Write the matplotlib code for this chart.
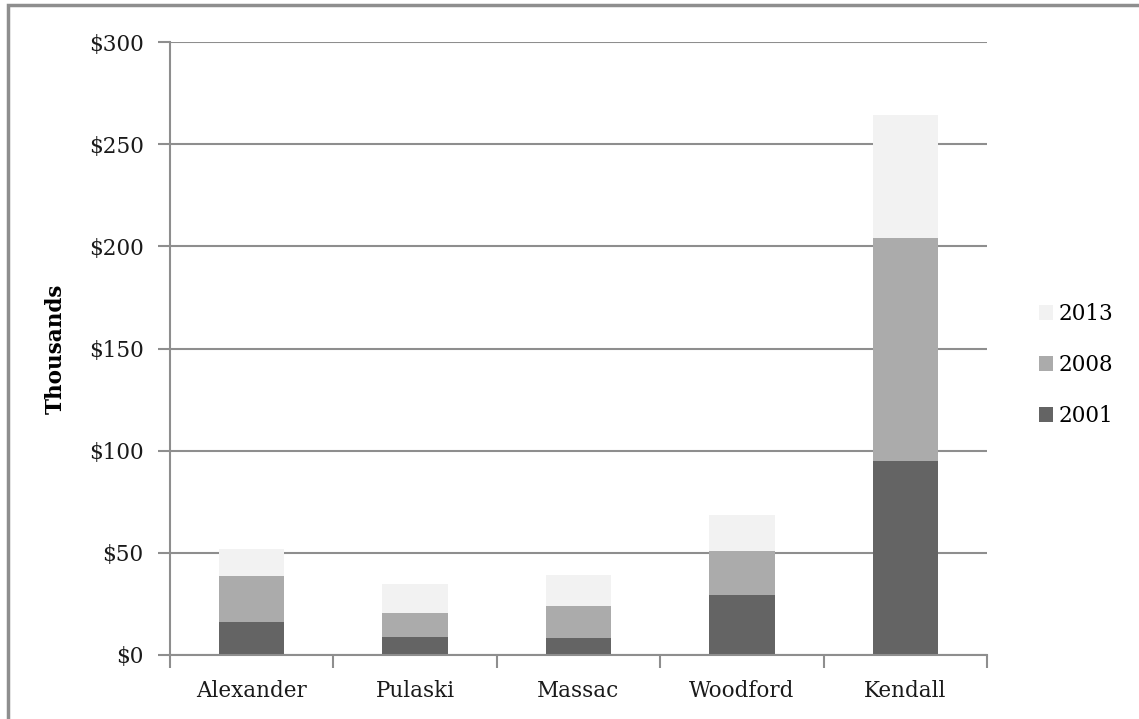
import matplotlib.pyplot as plt
import numpy as np
from matplotlib.patches import Rectangle

counties = ["Alexander", "Pulaski", "Massac", "Woodford", "Kendall"]
years = ["2001", "2008", "2013"]
# values in thousands of dollars, stacked segments
v2001 = [16.2, 8.9, 8.1, 29.6, 94.9]
v2008 = [22.4, 11.7, 15.8, 21.5, 109.2]
v2013 = [13.3, 14.3, 15.1, 17.4, 60.3]
yticks = [0, 50, 100, 150, 200, 250, 300]

colors = {"2001": "#646464", "2008": "#ababab", "2013": "#f2f2f2"}
GRAY = "#8e8e8e"
FS = 15.5

plt.rcParams['font.family'] = ['DejaVu Serif']

fig = plt.figure(figsize=(11.39, 7.19), dpi=100)
ax = fig.add_axes([170 / 1139, 1 - 655 / 719, 817 / 1139, 613 / 719])

x = np.arange(len(counties))
bottom = np.zeros(len(counties))
handles = {}
for year, vals in zip(years, [v2001, v2008, v2013]):
    bars = ax.bar(x, vals, width=0.4, bottom=bottom, color=colors[year], zorder=3, label=year)
    handles[year] = bars
    bottom += np.array(vals)

ax.set_xlim(-0.5, len(counties) - 0.5)
ax.set_ylim(0, 300)
ax.set_yticks(yticks)
ax.set_yticklabels(["$%d" % t for t in yticks], fontsize=FS, color="#1a1a1a")
ax.yaxis.grid(True, color=GRAY, linewidth=1.5, zorder=0)

ax.set_xticks(x)
ax.set_xticklabels(counties, fontsize=FS, color="#1a1a1a")
ax.set_xticks(np.arange(-0.5, len(counties)), minor=True)
ax.tick_params(axis='x', which='major', length=0, pad=18)
ax.tick_params(axis='x', which='minor', length=9, width=1.5, color=GRAY, direction='out')
ax.tick_params(axis='y', length=9, width=1.5, color=GRAY, pad=10)

for s in ["top", "right"]:
    ax.spines[s].set_visible(False)
for s in ["left", "bottom"]:
    ax.spines[s].set_color(GRAY)
    ax.spines[s].set_linewidth(1.5)
    ax.spines[s].set_zorder(4)

ax.set_ylabel("Thousands", fontsize=FS, fontweight="bold", labelpad=16)

fig.legend([handles[y] for y in ["2013", "2008", "2001"]], ["2013", "2008", "2001"],
           loc="center left", bbox_to_anchor=(1020 / 1139, 1 - 365 / 719),
           frameon=False, fontsize=FS, handlelength=0.65, handleheight=0.65,
           handletextpad=0.25, labelspacing=1.35)

# outer border (top and left edges visible)
fig.patches.append(Rectangle((8 / 1139, -0.1), 1.2, 1 - 5 / 719 + 0.1, transform=fig.transFigure,
                             fill=False, edgecolor=GRAY, linewidth=2.5))

fig.savefig("out.png", dpi=100)
